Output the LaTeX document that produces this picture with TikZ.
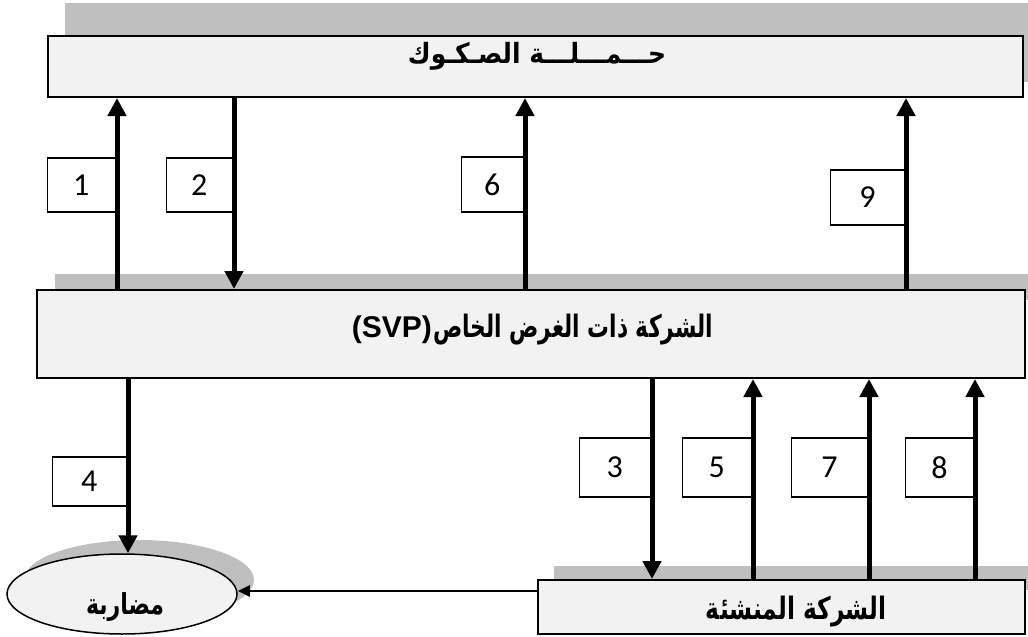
\documentclass[tikz,border=0pt]{standalone}
\usepackage{fontspec}
\usepackage{graphicx}
\setmainfont{Liberation Sans}
\newfontfamily\arb[Script=Arabic]{DejaVu Sans}
\newfontfamily\numf{Carlito}
\TeXXeTstate=1
\usetikzlibrary{arrows.meta,shapes.geometric}
\definecolor{boxfill}{HTML}{F2F2F2}
\definecolor{shadegray}{HTML}{BFBFBF}
\newcommand{\numsize}{\numf\fontsize{32}{38}\selectfont}
\begin{document}
\begin{tikzpicture}[x=1pt,y=-1pt,
  mainbox/.style={draw=black,line width=2pt,fill=boxfill,inner sep=0pt},
  numbox/.style={draw=black,line width=1.3pt,fill=white,inner sep=0pt,font=\numsize},
  bigarr/.style={line width=5pt,-{Triangle[width=18pt,length=18pt]}},
  thinarr/.style={line width=2pt,-{Triangle[width=11pt,length=12pt]}},
  txt/.style={inner sep=0pt}]
\useasboundingbox (0,0) rectangle (1028,637);
% shadows
\fill[shadegray] (65,3) rectangle (1028,82);
\fill[shadegray] (55,274) rectangle (1028,300);
\fill[shadegray] (554,566) rectangle (1028,590);
\fill[shadegray] (139,580) ellipse [x radius=115, y radius=40];
% main boxes
\node[mainbox,minimum width=975pt,minimum height=61pt] (hold) at (535.5,66.5) {};
\node[mainbox,minimum width=988pt,minimum height=88pt] (svp) at (531,334) {};
\node[mainbox,minimum width=487pt,minimum height=54pt] (bot) at (781.5,607) {};
\node[draw=black,line width=1.5pt,fill=boxfill,ellipse,inner sep=0pt,minimum width=230pt,minimum height=80pt] (ell) at (122,594) {};
% texts
\node[txt] (holdT) at (537,56) {\resizebox*{258pt}{28pt}{\arb\bfseries\beginR حـــمـــلـــة الصـكـوك\endR}};
\node[txt,anchor=east] (svpS) at (432,330) {\fontsize{30}{36}\selectfont\bfseries (SVP)};
\node[txt,anchor=west] (svpT) at ([xshift=1pt]svpS.east) {\resizebox*{280pt}{31pt}{\arb\bfseries\beginR الشركة ذات الغرض الخاص\endR}};
\node[txt] (botT) at (796,612) {\resizebox*{180pt}{31pt}{\arb\bfseries\beginR الشركة المنشئة\endR}};
\node[txt] (ellT) at (125,607) {\resizebox*{78pt}{29pt}{\arb\bfseries\beginR مضاربة\endR}};
% number boxes
\node[numbox,minimum width=68pt,minimum height=54pt,anchor=east] (n1) at (116,185) {1};
\node[numbox,minimum width=66pt,minimum height=54pt,anchor=east] (n2) at (233,185) {2};
\node[numbox,minimum width=62pt,minimum height=55pt,anchor=east] (n6) at (524,184.5) {6};
\node[numbox,minimum width=74pt,minimum height=55pt,anchor=east] (n9) at (905,197.5) {9};
\node[numbox,minimum width=74pt,minimum height=49pt,anchor=east] (n4) at (127,481.5) {4};
\node[numbox,minimum width=71pt,minimum height=59pt,anchor=east] (n3) at (651,467.5) {3};
\node[numbox,minimum width=69pt,minimum height=59pt,anchor=east] (n5) at (752,467.5) {5};
\node[numbox,minimum width=76pt,minimum height=59pt,anchor=east] (n7) at (868,467.5) {7};
\node[numbox,minimum width=68pt,minimum height=59pt,anchor=east] (n8) at (974,467.5) {8};
% arrow positions
\coordinate (a1) at (117,0);
\coordinate (a2) at (234,0);
\coordinate (a6) at (525,0);
\coordinate (a9) at (906,0);
\coordinate (a4) at (128,0);
\coordinate (a3) at (652,0);
\coordinate (a5) at (753,0);
\coordinate (a7) at (869,0);
\coordinate (a8) at (975,0);
\coordinate (hy) at (0,591);
% arrows
\draw[bigarr] (svp.north -| a1) -- (hold.south -| a1);
\draw[bigarr] (hold.south -| a2) -- (svp.north -| a2);
\draw[bigarr] (svp.north -| a6) -- (hold.south -| a6);
\draw[bigarr] (svp.north -| a9) -- (hold.south -| a9);
\draw[bigarr] (svp.south -| a4) -- (a4 |- ell.north);
\draw[bigarr] (svp.south -| a3) -- (bot.north -| a3);
\draw[bigarr] (bot.north -| a5) -- (svp.south -| a5);
\draw[bigarr] (bot.north -| a7) -- (svp.south -| a7);
\draw[bigarr] (bot.north -| a8) -- (svp.south -| a8);
\draw[thinarr] (bot.west |- hy) -- (ell.east |- hy);
\end{tikzpicture}
\end{document}
